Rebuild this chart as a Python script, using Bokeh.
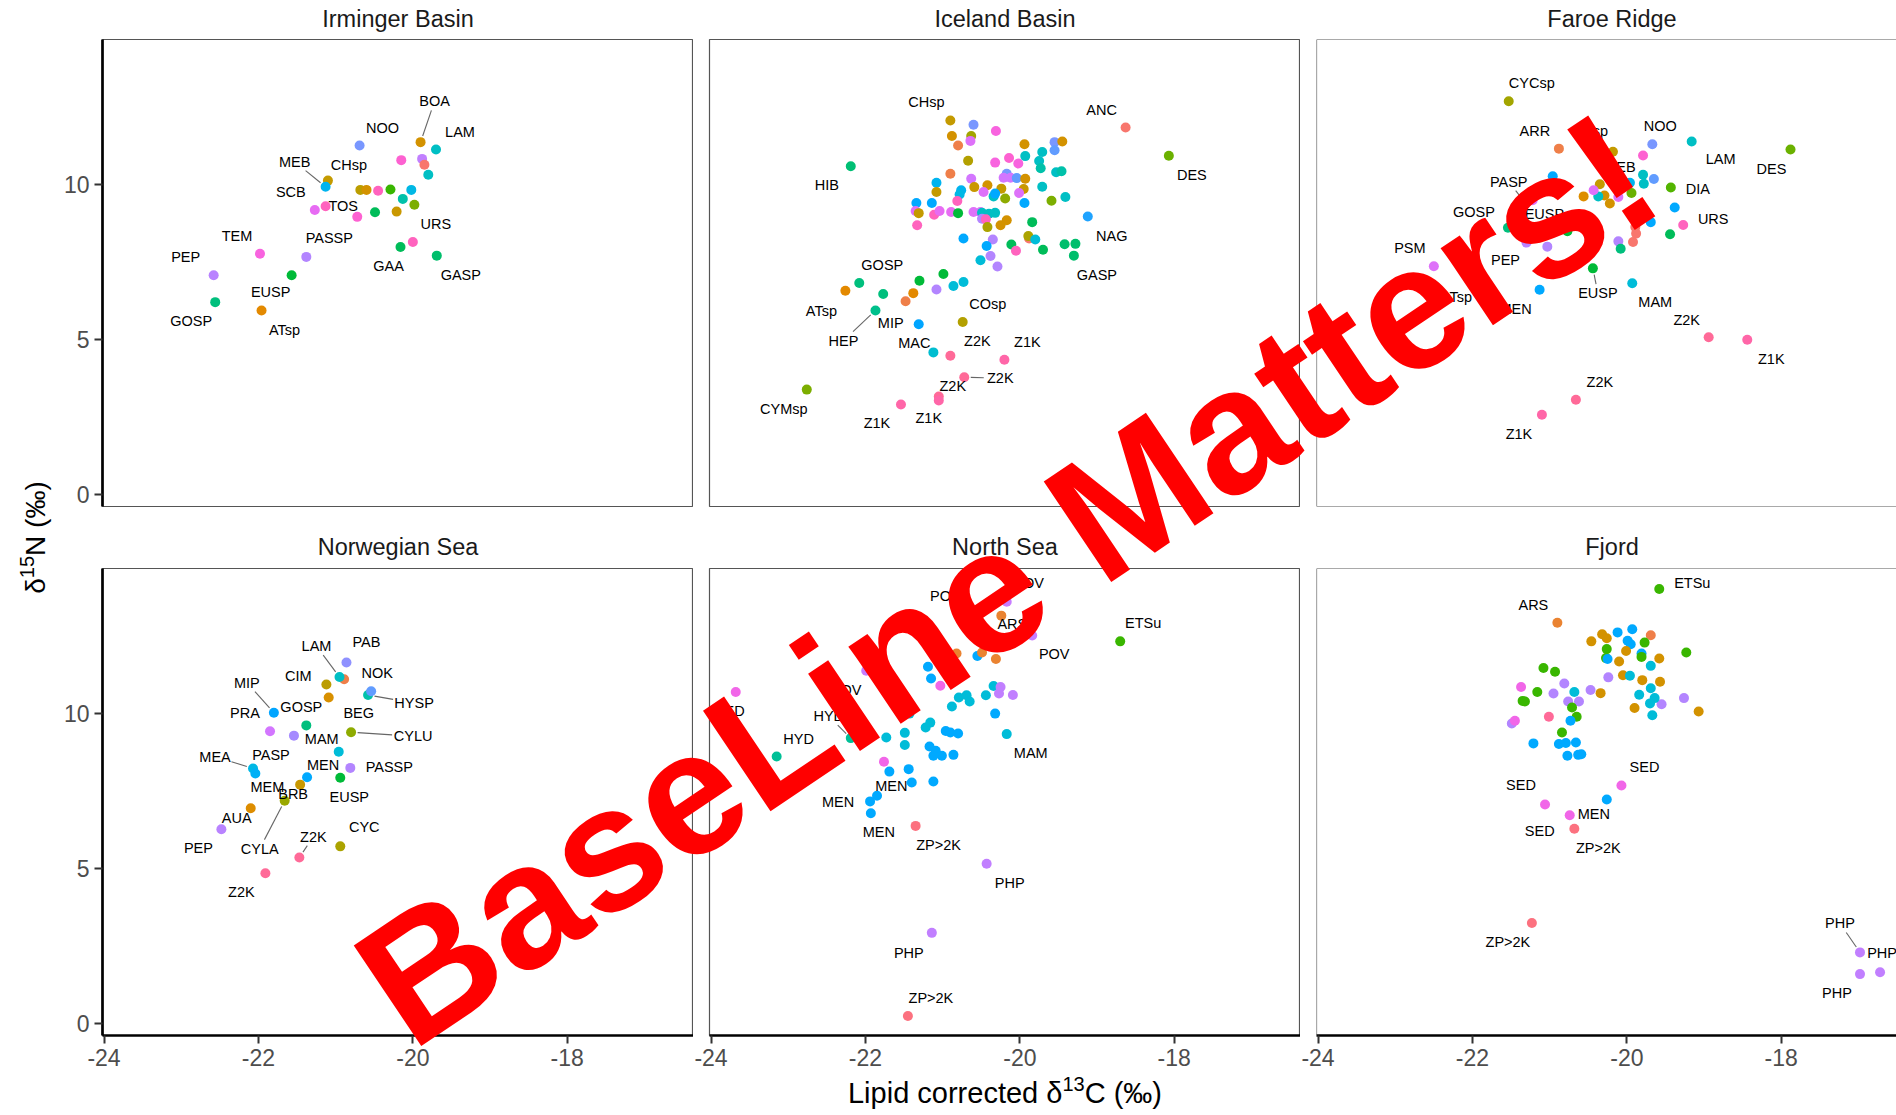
import math
from bokeh.plotting import figure
from bokeh.models import Range1d, GridBox, Label, FixedTicker, Span
from bokeh.embed import file_html
from bokeh.resources import INLINE
from bokeh.core.properties import value

# ------------------------------------------------------------------
# Bulk stable isotope values (lipid corrected d13C, d15N, per mille)
# The first len(<region>_label) entries of each region carry a label.
# ------------------------------------------------------------------

# Irminger Basin
irm_taxon = ["BOA", "NOO", "LAM", "CHsp", "MEB", "SCB", "TOS", "URS", "TEM", "PASSP",
             "PEP", "GAA", "GASP", "EUSP", "GOSP", "ATsp",
             "TOS", "PHP", "ANC", "LAM", "CIM", "BOA", "URS", "ETSu", "MEA", "HYSP",
             "CYMsp", "BRB", "GAA", "URS"]
irm_c13 = [-19.90, -20.69, -19.70, -21.10, -21.13, -21.27, -20.72, -20.00, -21.98, -21.38,
           -22.58, -20.16, -19.69, -21.57, -22.56, -21.96,
           -20.15, -19.88, -19.85, -19.80, -20.68, -20.60, -20.45, -20.29, -20.02, -20.13,
           -19.98, -20.21, -20.49, -21.13]
irm_n15 = [11.35, 11.24, 11.11, 10.11, 9.91, 9.16, 8.94, 8.13, 7.75, 7.65,
           7.06, 7.97, 7.69, 7.06, 6.19, 5.92,
           10.77, 10.81, 10.62, 10.30, 9.81, 9.81, 9.78, 9.82, 9.81, 9.52,
           9.33, 9.11, 9.09, 9.28]
irm_label = ["BOA", "NOO", "LAM", "CHsp", "MEB", "SCB", "TOS", "URS", "TEM", "PASSP",
             "PEP", "GAA", "GASP", "EUSP", "GOSP", "ATsp"]

# Iceland Basin
ice_taxon = ["CHsp", "ANC", "HIB", "DES", "NAG", "GASP", "GOSP", "ATsp", "MIP", "HEP",
             "MAC", "COsp", "Z2K", "Z1K", "Z2K", "Z2K", "Z1K", "Z1K", "CYMsp",
             "NOO", "TEM", "BOA", "CYCsp", "PSM", "ARR", "COsp", "ARR", "TEM", "TOS",
             "TEM", "BOA", "LAM", "NOO", "BOA", "NOK", "LAM", "LAM", "HYSP", "LAM",
             "HYSP", "MEB", "CHsp", "PRA", "MEB", "MEA", "BRB", "BOA", "CHsp", "NOO",
             "PRA", "PRA", "NOK", "BOA", "BRB", "PSM", "LAM", "MEN", "CYLU", "PSM",
             "MEN", "LAM", "CYMsp", "LAM", "MEN", "PSM", "CHsp", "MEN", "URS", "URS",
             "SCB", "SCB", "URS", "EUSP", "PSM", "PSM", "LAM", "LAM", "PASSP", "URS",
             "LAM", "BOA", "BOA", "CYC", "MEN", "PASSP", "MEN", "PASSP", "MAM", "PASSP",
             "GAA", "ANC", "CYC", "MAM", "GAA", "URS", "GAA", "GASP", "GASP",
             "EUSP", "EUSP", "PASSP", "MAM", "MAM", "GOSP", "ATsp", "ARR"]
ice_c13 = [-20.90, -18.63, -22.19, -18.07, -19.12, -19.30, -22.08, -22.26, -21.31, -21.87,
           -21.12, -20.74, -20.90, -20.20, -20.72, -21.05, -21.05, -21.54, -22.76,
           -20.60, -20.31, -20.88, -20.63, -20.64, -20.80, -20.67, -20.90, -20.32, -20.14,
           -20.02, -19.94, -19.93, -19.55, -19.45, -19.55, -19.71, -19.75, -19.73, -19.53,
           -19.46, -21.08, -21.08, -20.63, -20.76, -20.78, -20.59, -20.42, -20.24, -20.17,
           -20.21, -20.12, -20.04, -19.93, -19.95, -20.47, -20.34, -20.32, -20.19, -20.01,
           -19.94, -19.71, -19.59, -19.41, -21.34, -21.35, -21.31, -21.14, -21.11, -21.33,
           -21.04, -20.89, -20.81, -20.80, -20.60, -20.51, -20.49, -20.40, -20.49, -20.44,
           -20.32, -20.25, -20.17, -20.42, -20.73, -20.35, -20.43, -20.38, -20.51, -20.29,
           -19.84, -19.88, -19.89, -19.80, -20.11, -20.05, -19.70, -19.42, -19.28,
           -21.30, -20.99, -21.08, -20.86, -20.73, -21.77, -21.38, -21.48]
ice_n15 = [12.05, 11.82, 10.57, 10.91, 8.95, 7.69, 6.81, 6.56, 5.48, 5.92,
           4.57, 5.55, 4.46, 4.33, 3.77, 3.15, 3.02, 2.89, 3.37,
           11.91, 11.71, 11.55, 11.55, 11.39, 11.24, 10.75, 10.33, 10.69, 10.84,
           10.66, 11.28, 10.90, 11.35, 11.37, 11.09, 11.03, 10.74, 10.51, 10.38,
           10.41, 10.04, 9.74, 10.17, 9.80, 9.66, 9.90, 9.96, 9.85, 10.33,
           10.20, 10.20, 10.19, 10.17, 9.84, 9.74, 9.60, 9.69, 9.53, 9.71,
           9.39, 9.91, 9.46, 9.58, 9.39, 9.13, 9.06, 9.39, 9.01, 8.67,
           9.13, 9.10, 9.45, 9.06, 9.10, 9.10, 9.07, 9.04, 8.88, 8.86,
           9.07, 8.67, 8.83, 8.61, 8.24, 8.21, 8.00, 7.68, 7.54, 7.34,
           8.77, 8.24, 8.32, 8.21, 8.05, 7.85, 7.88, 8.06, 8.07,
           6.88, 7.10, 6.60, 6.71, 6.84, 6.45, 6.48, 6.22]
ice_label = ["CHsp", "ANC", "HIB", "DES", "NAG", "GASP", "GOSP", "ATsp", "MIP", "HEP",
             "MAC", "COsp", "Z2K", "Z1K", "Z2K", "Z2K", "Z1K", "Z1K", "CYMsp"]

# Faroe Ridge
far_taxon = ["CYCsp", "ARR", "NOO", "LAM", "DES", "DIA", "URS", "PSM", "PEP", "MEN",
             "EUSP", "MAM", "Z2K", "Z1K", "Z2K", "Z1K", "PASP", "GOSP", "EUSP", "ATsp",
             "CHsp", "MEB",
             "TOS", "MEN", "LAM", "LAM", "NOK", "DES", "PSM", "CHsp", "BOA", "BOA",
             "AUA", "LAM", "PSM", "MEN", "MEN", "GAA", "ANC", "ANC", "ANC", "PASSP",
             "GOSP", "PASSP", "PSM"]
far_c13 = [-21.53, -20.88, -19.67, -19.16, -17.88, -19.43, -19.27, -22.50, -21.30, -21.13,
           -20.44, -19.93, -18.94, -18.44, -20.66, -21.10, -21.31, -21.54, -20.77, -21.91,
           -20.18, -19.96,
           -19.79, -20.96, -19.79, -19.78, -19.65, -19.94, -20.11, -20.35, -20.29, -20.22,
           -20.56, -20.37, -20.43, -19.38, -19.69, -19.44, -19.89, -19.88, -19.92, -20.11,
           -20.08, -21.03, -21.22]
far_n15 = [12.67, 11.14, 11.28, 11.37, 11.11, 9.89, 8.68, 7.35, 8.11, 6.59,
           7.28, 6.80, 5.06, 4.98, 3.04, 2.56, 9.37, 8.59, 8.48, 6.92,
           11.04, 10.04,
           10.92, 10.25, 10.30, 10.01, 10.16, 9.71, 9.58, 9.99, 9.63, 9.37,
           9.60, 9.60, 9.80, 9.24, 8.77, 8.38, 8.61, 8.40, 8.13, 8.15,
           7.91, 7.98, 9.48]
far_label = ["CYCsp", "ARR", "NOO", "LAM", "DES", "DIA", "URS", "PSM", "PEP", "MEN",
             "EUSP", "MAM", "Z2K", "Z1K", "Z2K", "Z1K", "PASP", "GOSP", "EUSP", "ATsp",
             "CHsp", "MEB"]

# Norwegian Sea
nor_taxon = ["ARR", "LAM", "PAB", "CIM", "HYSP", "NOK", "MIP", "PRA", "GOSP", "BEG",
             "CYLU", "MAM", "MEA", "PASP", "MEN", "PASSP", "MEM", "BRB", "EUSP", "AUA",
             "CYLA", "PEP", "Z2K", "CYC", "Z2K"]
nor_c13 = [-20.89, -20.95, -20.86, -21.12, -20.58, -20.54, -21.80, -21.85, -21.38, -21.09,
           -20.80, -20.96, -22.07, -21.54, -21.37, -20.81, -22.04, -21.46, -20.94, -22.10,
           -21.66, -22.48, -21.47, -20.94, -21.91]
nor_n15 = [11.09, 11.16, 11.63, 10.92, 10.58, 10.70, 10.01, 9.41, 9.60, 10.50,
           9.38, 8.75, 8.21, 9.27, 7.93, 8.23, 8.05, 7.69, 7.91, 6.93,
           7.17, 6.25, 5.34, 5.70, 4.83]
nor_label = ["", "LAM", "PAB", "CIM", "HYSP", "NOK", "MIP", "PRA", "GOSP", "BEG",
             "CYLU", "MAM", "MEA", "PASP", "MEN", "PASSP", "MEM", "BRB", "EUSP", "AUA",
             "CYLA", "PEP", "Z2K", "CYC", "Z2K"]

# North Sea
nsea_taxon = ["ETSu", "SED", "HYD", "HYD", "MAM", "MEN", "MEN", "MEN", "ZP>2K", "PHP",
              "PHP", "ZP>2K", "POV", "POV", "POV", "ARS", "POV",
              "ARS", "MEN", "ARS", "ARS", "MEN", "MEN", "SED", "MAM", "PHP", "PHP",
              "PHP", "MAM", "MAM", "MAM", "MAM", "MAM", "MEN", "MAM", "MAM", "MEN",
              "MEN", "MEN", "MAM", "MAM", "MAM", "MEN", "MEN", "MEN", "MEN", "MEN",
              "SED", "MEN", "MEN", "MEN", "MEN", "MAM"]
nsea_c13 = [-18.70, -23.68, -23.15, -22.19, -20.17, -21.69, -21.94, -21.93, -21.35, -20.43,
            -21.14, -21.45, -19.84, -20.17, -20.68, -20.24, -21.99,
            -20.82, -20.55, -20.49, -20.31, -21.19, -21.15, -21.03, -20.34, -20.25, -20.27,
            -20.09, -20.44, -20.79, -20.69, -20.65, -20.88, -20.32, -21.22, -21.16, -20.96,
            -20.90, -20.80, -21.73, -21.49, -21.49, -21.17, -21.09, -21.01, -20.86, -21.12,
            -21.76, -21.44, -21.40, -21.12, -21.85, -21.43]
nsea_n15 = [12.31, 10.68, 8.60, 9.19, 9.32, 8.11, 7.15, 6.77, 6.36, 5.14,
            2.91, 0.23, 12.50, 13.59, 13.17, 13.14, 11.36,
            11.92, 11.84, 11.95, 11.74, 11.49, 11.11, 10.88, 10.87, 10.84, 10.63,
            10.58, 10.57, 10.50, 10.57, 10.37, 10.21, 9.98, 9.53, 9.69, 9.42,
            9.37, 9.34, 9.21, 9.36, 8.97, 8.92, 8.78, 8.62, 8.65, 8.62,
            8.43, 8.19, 7.76, 7.79, 7.33, 9.98]
nsea_label = ["ETSu", "SED", "HYD", "HYD", "MAM", "MEN", "MEN", "MEN", "ZP>2K", "PHP",
              "PHP", "ZP>2K", "POV", "POV", "POV", "ARS", "POV"]

# Fjord
fjo_taxon = ["ETSu", "ARS", "SED", "SED", "MEN", "SED", "ZP>2K", "ZP>2K", "PHP", "PHP", "PHP",
             "MEN", "MEN", "ARR", "BOA", "BOA", "BOA", "MEN", "MEN", "MEN", "ETSu",
             "BOA", "ETSu", "ETSu", "MEN", "BOA", "ETSu", "MAM", "BOA", "ETSu",
             "PASSP", "BOA", "MAM", "BOA", "BOA", "MAM", "MAM", "BOA", "PASSP", "MAM",
             "MAM", "MAM", "BOA", "PASSP", "BOA",
             "ETSu", "ETSu", "SED", "ETSu", "ETSu", "ETSu", "PASSP", "PASSP", "PASSP", "PASSP",
             "PASSP", "MAM", "ETSu", "ETSu", "Z2K", "PASSP", "SED", "MEN", "ETSu", "MEN",
             "MEN", "MEN", "MEN", "MEN", "MEN", "MEN"]
fjo_c13 = [-19.58, -20.90, -20.07, -21.06, -20.26, -20.74, -20.68, -21.23, -16.98, -16.72, -16.98,
           -20.12, -19.93, -19.69, -20.32, -20.26, -20.46, -19.99, -19.95, -19.81, -19.77,
           -20.01, -20.26, -20.27, -20.25, -20.10, -19.81, -19.69, -19.58, -19.23,
           -20.24, -20.05, -19.96, -19.80, -19.57, -19.69, -19.84, -20.34, -19.55, -19.64,
           -19.70, -19.67, -19.90, -19.26, -19.07,
           -21.08, -20.93, -21.37, -21.16, -21.35, -21.32, -20.95, -20.81, -20.76, -20.62,
           -20.47, -20.68, -20.71, -20.65, -21.01, -21.49, -21.45, -20.73, -20.84, -21.21,
           -20.88, -20.79, -20.66, -20.77, -20.63, -20.59]
fjo_n15 = [14.00, 12.91, 7.66, 7.05, 7.21, 6.70, 6.27, 3.23, 2.28, 1.64, 1.58,
           12.60, 12.70, 12.51, 12.54, 12.41, 12.31, 12.33, 12.22, 11.92, 12.27,
           12.00, 12.06, 11.77, 11.74, 11.66, 11.81, 11.52, 11.76, 11.95,
           11.15, 11.22, 11.20, 11.06, 11.01, 10.80, 10.59, 10.64, 10.28, 10.48,
           10.31, 9.93, 10.16, 10.48, 10.05,
           11.45, 11.33, 10.84, 10.68, 10.39, 10.37, 10.63, 10.95, 10.37, 10.37,
           10.74, 10.68, 10.18, 9.88, 9.88, 9.66, 9.75, 9.75, 9.37, 9.02,
           9.00, 9.03, 9.05, 8.62, 8.65, 8.67]
fjo_label = ["ETSu", "ARS", "SED", "SED", "MEN", "SED", "ZP>2K", "ZP>2K", "PHP", "PHP", "PHP"]

region_titles = ["Irminger Basin", "Iceland Basin", "Faroe Ridge",
                 "Norwegian Sea", "North Sea", "Fjord"]
c13_ticks = [-24, -22, -20, -18]
n15_ticks = [0, 5, 10]

# ------------------------------------------------------------------
# Label placement: pixel offset of each label from its point
# (dx to the right, dy downwards) and whether a leader line is drawn.
# ------------------------------------------------------------------
irm_offsets = [(14, -41, True), (23, -18, False), (24, -18, False), (21, -16, False),
               (-31, -25, True), (-24, -18, False), (-14, -11, False), (23, -18, False),
               (-23, -18, False), (23, -19, False), (-28, -18, False), (-12, 19, False),
               (24, 19, False), (-21, 17, False), (-24, 19, False), (23, 19, False)]
ice_offsets = [(-24, -18, False), (-24, -18, False), (-24, 19, False), (23, 19, False),
               (24, 19, False), (23, 19, False), (23, -18, False), (-24, 20, False),
               (-28, -1, False), (-32, 30, True), (-19, -9, False), (25, -18, False),
               (27, -15, False), (23, -18, False), (36, 1, True), (14, -10, False),
               (-10, 18, False), (-24, 19, False), (-23, 19, False)]
far_offsets = [(23, -18, False), (-24, -18, False), (8, -18, False), (29, 17, False),
               (-19, 19, False), (27, 2, False), (30, -6, False), (-24, -18, False),
               (-21, 17, False), (-24, 19, False), (5, 25, True), (23, 19, False),
               (-22, -17, False), (24, 19, False), (24, -18, False), (-23, 19, False),
               (-17, -22, True), (-34, -16, False), (-23, -17, False), (-23, 17, False),
               (-23, -21, False), (-10, -16, False)]
nor_offsets = [(0, 0, False), (-23, -31, True), (20, -20, False), (-28, -8, False),
               (46, 8, True), (6, -18, False), (-27, -30, True), (-25, -18, False),
               (-5, -18, False), (30, 16, False), (62, 4, True), (-17, -13, False),
               (-38, -12, True), (-23, 19, False), (16, -12, False), (39, -1, False),
               (12, 14, False), (-7, 9, False), (9, 19, False), (-14, 10, False),
               (-25, 48, True), (-23, 19, False), (14, -21, True), (24, -19, False),
               (-24, 19, False)]
nsea_offsets = [(23, -18, False), (-6, 19, False), (22, -17, False), (-22, -22, True),
                (24, 19, False), (2, 14, False), (-32, 1, False), (8, 19, False),
                (23, 19, False), (23, 19, False), (-23, 20, False), (23, -18, False),
                (22, 19, False), (22, -19, False), (-22, -19, False), (11, 8, False),
                (-20, 19, False)]
fjo_offsets = [(33, -6, False), (-24, -18, False), (23, -19, False), (-24, -19, False),
               (-13, 14, False), (-30, 16, False), (24, 19, False), (-24, 19, False),
               (-20, -29, True), (2, -19, False), (-23, 19, False)]

TAXON_COLOURS = {
    "ANC": "#F8766D", "ARR": "#EF7F49", "ARS": "#EA8331", "ATsp": "#E38900", "AUA": "#DD8D00",
    "BEG": "#D89000", "BOA": "#D39200", "BRB": "#C99800", "CHsp": "#C49A00", "CIM": "#BB9D00",
    "COsp": "#B3A000", "CYC": "#ABA300", "CYCsp": "#A3A500", "CYLA": "#9AA800", "CYLU": "#8EAB00",
    "CYMsp": "#7CAE00", "DES": "#6BB100", "DIA": "#53B400", "ETSu": "#39B600", "EUSP": "#00BA38",
    "GAA": "#00BC59", "GASP": "#00BE6C", "GOSP": "#00BF7D", "HEP": "#00C08B", "HIB": "#00BF74",
    "HYD": "#00C097", "HYSP": "#00C1AA", "LAM": "#00BFC4", "MAC": "#00BDD0", "MAM": "#00BCD8",
    "MEA": "#00B8E5", "MEB": "#00B4EF", "MEM": "#00B0F6", "MEN": "#00A9FF", "MIP": "#00A5FF",
    "NAG": "#1FA3FF", "NOK": "#619CFF", "NOO": "#7997FF", "PAB": "#8F91FF", "PASP": "#A58AFF",
    "PASSP": "#B385FF", "PEP": "#B983FF", "PHP": "#C17FFF", "POV": "#C77CFF", "PRA": "#D376FF",
    "PSM": "#DE71F9", "SCB": "#E76BF3", "SED": "#F166E8", "TEM": "#F863DF", "TOS": "#FD61D1",
    "URS": "#FF63BE", "Z1K": "#FF66A8", "Z2K": "#FF6A98", "ZP>2K": "#FC717F",
}

FONT = "Liberation Sans"
X_START = -24.02
PX_PER_C = 77.2             # screen pixels per unit of d13C
Y_START, Y_END = -0.40, 14.66
FRAME_H = 467
COL_W = [591, 591, 580]
BORDER_L = [102, 16, 16]
BORDER_R = [0, 0, 0]
BORDER_T = [39, 54]
BORDER_B = [8, 80]
PAGE_W, PAGE_H = 1896, 1115
MID = 0.3465                # em distance from a "middle" anchor down to the baseline


def leader(dx, dy, text, fs):
    """Segment endpoints (pixels, relative to the point) between a point and its label box."""
    d = math.hypot(dx, dy)
    ux, uy = dx / d, dy / d
    hw = 0.31 * len(text) * fs + 2
    hh = 0.5 * fs + 1
    t = min(hw / abs(ux) if ux else 1e9, hh / abs(uy) if uy else 1e9)
    a = 6.5
    b = d - t - 1
    if b <= a:
        return None
    return (ux * a, uy * a, ux * b, uy * b)


def make_panel(taxon, c13, n15, labels, offsets, row, col):
    fw = COL_W[col]
    px_y = FRAME_H / (Y_END - Y_START)
    p = figure(width=BORDER_L[col] + fw + BORDER_R[col],
               height=BORDER_T[row] + FRAME_H + BORDER_B[row],
               x_range=Range1d(X_START, X_START + fw / PX_PER_C),
               y_range=Range1d(Y_START, Y_END),
               min_border_left=BORDER_L[col], min_border_right=BORDER_R[col],
               min_border_top=BORDER_T[row], min_border_bottom=BORDER_B[row],
               x_axis_location="below" if row == 1 else None,
               y_axis_location="left" if col == 0 else None,
               output_backend="svg", toolbar_location=None)
    p.grid.grid_line_color = None
    p.background_fill_color = "white"
    p.border_fill_color = "white"

    if col < 2:
        p.outline_line_color = "#555555"
        p.outline_line_width = 1.2
    else:
        p.outline_line_color = None
        edges = [Span(location=Y_END, dimension="width"), Span(location=X_START, dimension="height")]
        if row == 0:
            edges.append(Span(location=Y_START, dimension="width"))
        for s in edges:
            s.line_color = "#555555"
            s.line_width = 1.2
            p.add_layout(s)

    axes = []
    if col == 0:
        p.yaxis.ticker = FixedTicker(ticks=n15_ticks)
        axes.append(p.yaxis[0])
    if row == 1:
        p.xaxis.ticker = FixedTicker(ticks=c13_ticks)
        p.xaxis.major_label_overrides = {t: str(t) for t in c13_ticks}
        axes.append(p.xaxis[0])
    for ax in axes:
        ax.axis_line_color = "black"
        ax.axis_line_width = 2.7
        ax.major_tick_line_color = "#333333"
        ax.major_tick_line_width = 2
        ax.major_tick_out = 8
        ax.major_tick_in = 0
        ax.minor_tick_line_color = None
        ax.major_label_text_font = FONT
        ax.major_label_text_font_size = "23px"
        ax.major_label_text_color = "#4D4D4D"
        ax.major_label_standoff = 5

    colours = [TAXON_COLOURS[t] for t in taxon]
    p.scatter(c13, n15, size=10, fill_color=colours, line_color=None)

    fs = 14.5
    lx, ly, txt = [], [], []
    sx0, sy0, sx1, sy1 = [], [], [], []
    for i, text in enumerate(labels):
        if not text:
            continue
        dx, dy, has_leader = offsets[i]
        lx.append(c13[i] + dx / PX_PER_C)
        ly.append(n15[i] - dy / px_y)
        txt.append(text)
        if has_leader:
            seg = leader(dx, dy, text, fs)
            if seg:
                sx0.append(c13[i] + seg[0] / PX_PER_C)
                sy0.append(n15[i] - seg[1] / px_y)
                sx1.append(c13[i] + seg[2] / PX_PER_C)
                sy1.append(n15[i] - seg[3] / px_y)
    if sx0:
        p.segment(sx0, sy0, sx1, sy1, line_color="#666666", line_width=1.1)
    p.text(lx, ly, text=txt, text_align="center", text_baseline="middle",
           text_font=value(FONT), text_font_size=f"{fs}px", text_color="black")
    return p


panels = [
    (make_panel(irm_taxon, irm_c13, irm_n15, irm_label, irm_offsets, 0, 0), 0, 0),
    (make_panel(ice_taxon, ice_c13, ice_n15, ice_label, ice_offsets, 0, 1), 0, 1),
    (make_panel(far_taxon, far_c13, far_n15, far_label, far_offsets, 0, 2), 0, 2),
    (make_panel(nor_taxon, nor_c13, nor_n15, nor_label, nor_offsets, 1, 0), 1, 0),
    (make_panel(nsea_taxon, nsea_c13, nsea_n15, nsea_label, nsea_offsets, 1, 1), 1, 1),
    (make_panel(fjo_taxon, fjo_c13, fjo_n15, fjo_label, fjo_offsets, 1, 2), 1, 2),
]
facets = GridBox(children=panels, spacing=0)

# Transparent page-sized layer on top of the facet grid: strip titles, shared
# axis titles and the banner.  Its ranges are in page pixels (y pointing down).
top = figure(width=PAGE_W, height=PAGE_H,
             x_range=Range1d(0, PAGE_W), y_range=Range1d(PAGE_H, 0),
             min_border_left=0, min_border_right=0, min_border_top=0, min_border_bottom=0,
             x_axis_location=None, y_axis_location=None,
             output_backend="svg", toolbar_location=None)
top.outline_line_color = None
top.background_fill_color = None
top.border_fill_color = None
top.grid.grid_line_color = None


def add_text(x, y, text, size, align="left", angle=0.0, color="black", style="normal"):
    """Place text by its baseline point (x, y); anchored internally at the text middle."""
    up = (-math.sin(angle), -math.cos(angle))      # screen direction of "up" for the glyphs
    ax = x + up[0] * MID * size
    ay = y + up[1] * MID * size
    top.add_layout(Label(x=ax, y=ay, text=text, text_font=FONT, text_font_size=f"{size}px",
                         text_font_style=style, text_align=align, text_baseline="middle",
                         text_color=color, angle=angle))


# strip titles
STRIP = 23.5
centres = [BORDER_L[0] + COL_W[0] / 2,
           BORDER_L[0] + COL_W[0] + BORDER_R[0] + BORDER_L[1] + COL_W[1] / 2,
           PAGE_W - COL_W[2] + 295.5]
for k, name in enumerate(region_titles):
    r, c = divmod(k, 3)
    base = 26.5 if r == 0 else 554.5
    add_text(centres[c], base, name, STRIP, align="center", color="#1A1A1A")

# x title: "Lipid corrected δ13C (‰)"
TS, SUP = 29, 20
xa = 1004.5 - (7.392 * TS + 1.112 * SUP + 2.666 * TS) / 2 + 7.392 * TS
xb = 1102.5
add_text(xa, xb, "Lipid corrected δ", TS, align="right")
add_text(xa, xb - 0.42 * TS, "13", SUP)
add_text(xa + 1.112 * SUP, xb, "C (‰)", TS)

# y title: "δ15N (‰)", reading upwards
TSY = 28
ylen = 0.556 * TSY + 1.112 * SUP + 2.666 * TSY
yb = 537 + ylen / 2
xbase = 45
add_text(xbase, yb, "δ", TSY, angle=math.pi / 2)
add_text(xbase - 0.42 * TSY, yb - 0.556 * TSY, "15", SUP, angle=math.pi / 2)
add_text(xbase, yb - 0.556 * TSY - 1.112 * SUP, "N (‰)", TSY, angle=math.pi / 2)

# banner across the facets
add_text(411, 1052, "BaseLine Matters!", 176, angle=0.592, color="#FF0000", style="bold")

layout = GridBox(children=[(facets, 0, 0), (top, 0, 0)], spacing=0)

with open("out.html", "w") as f:
    f.write(file_html(layout, INLINE))
